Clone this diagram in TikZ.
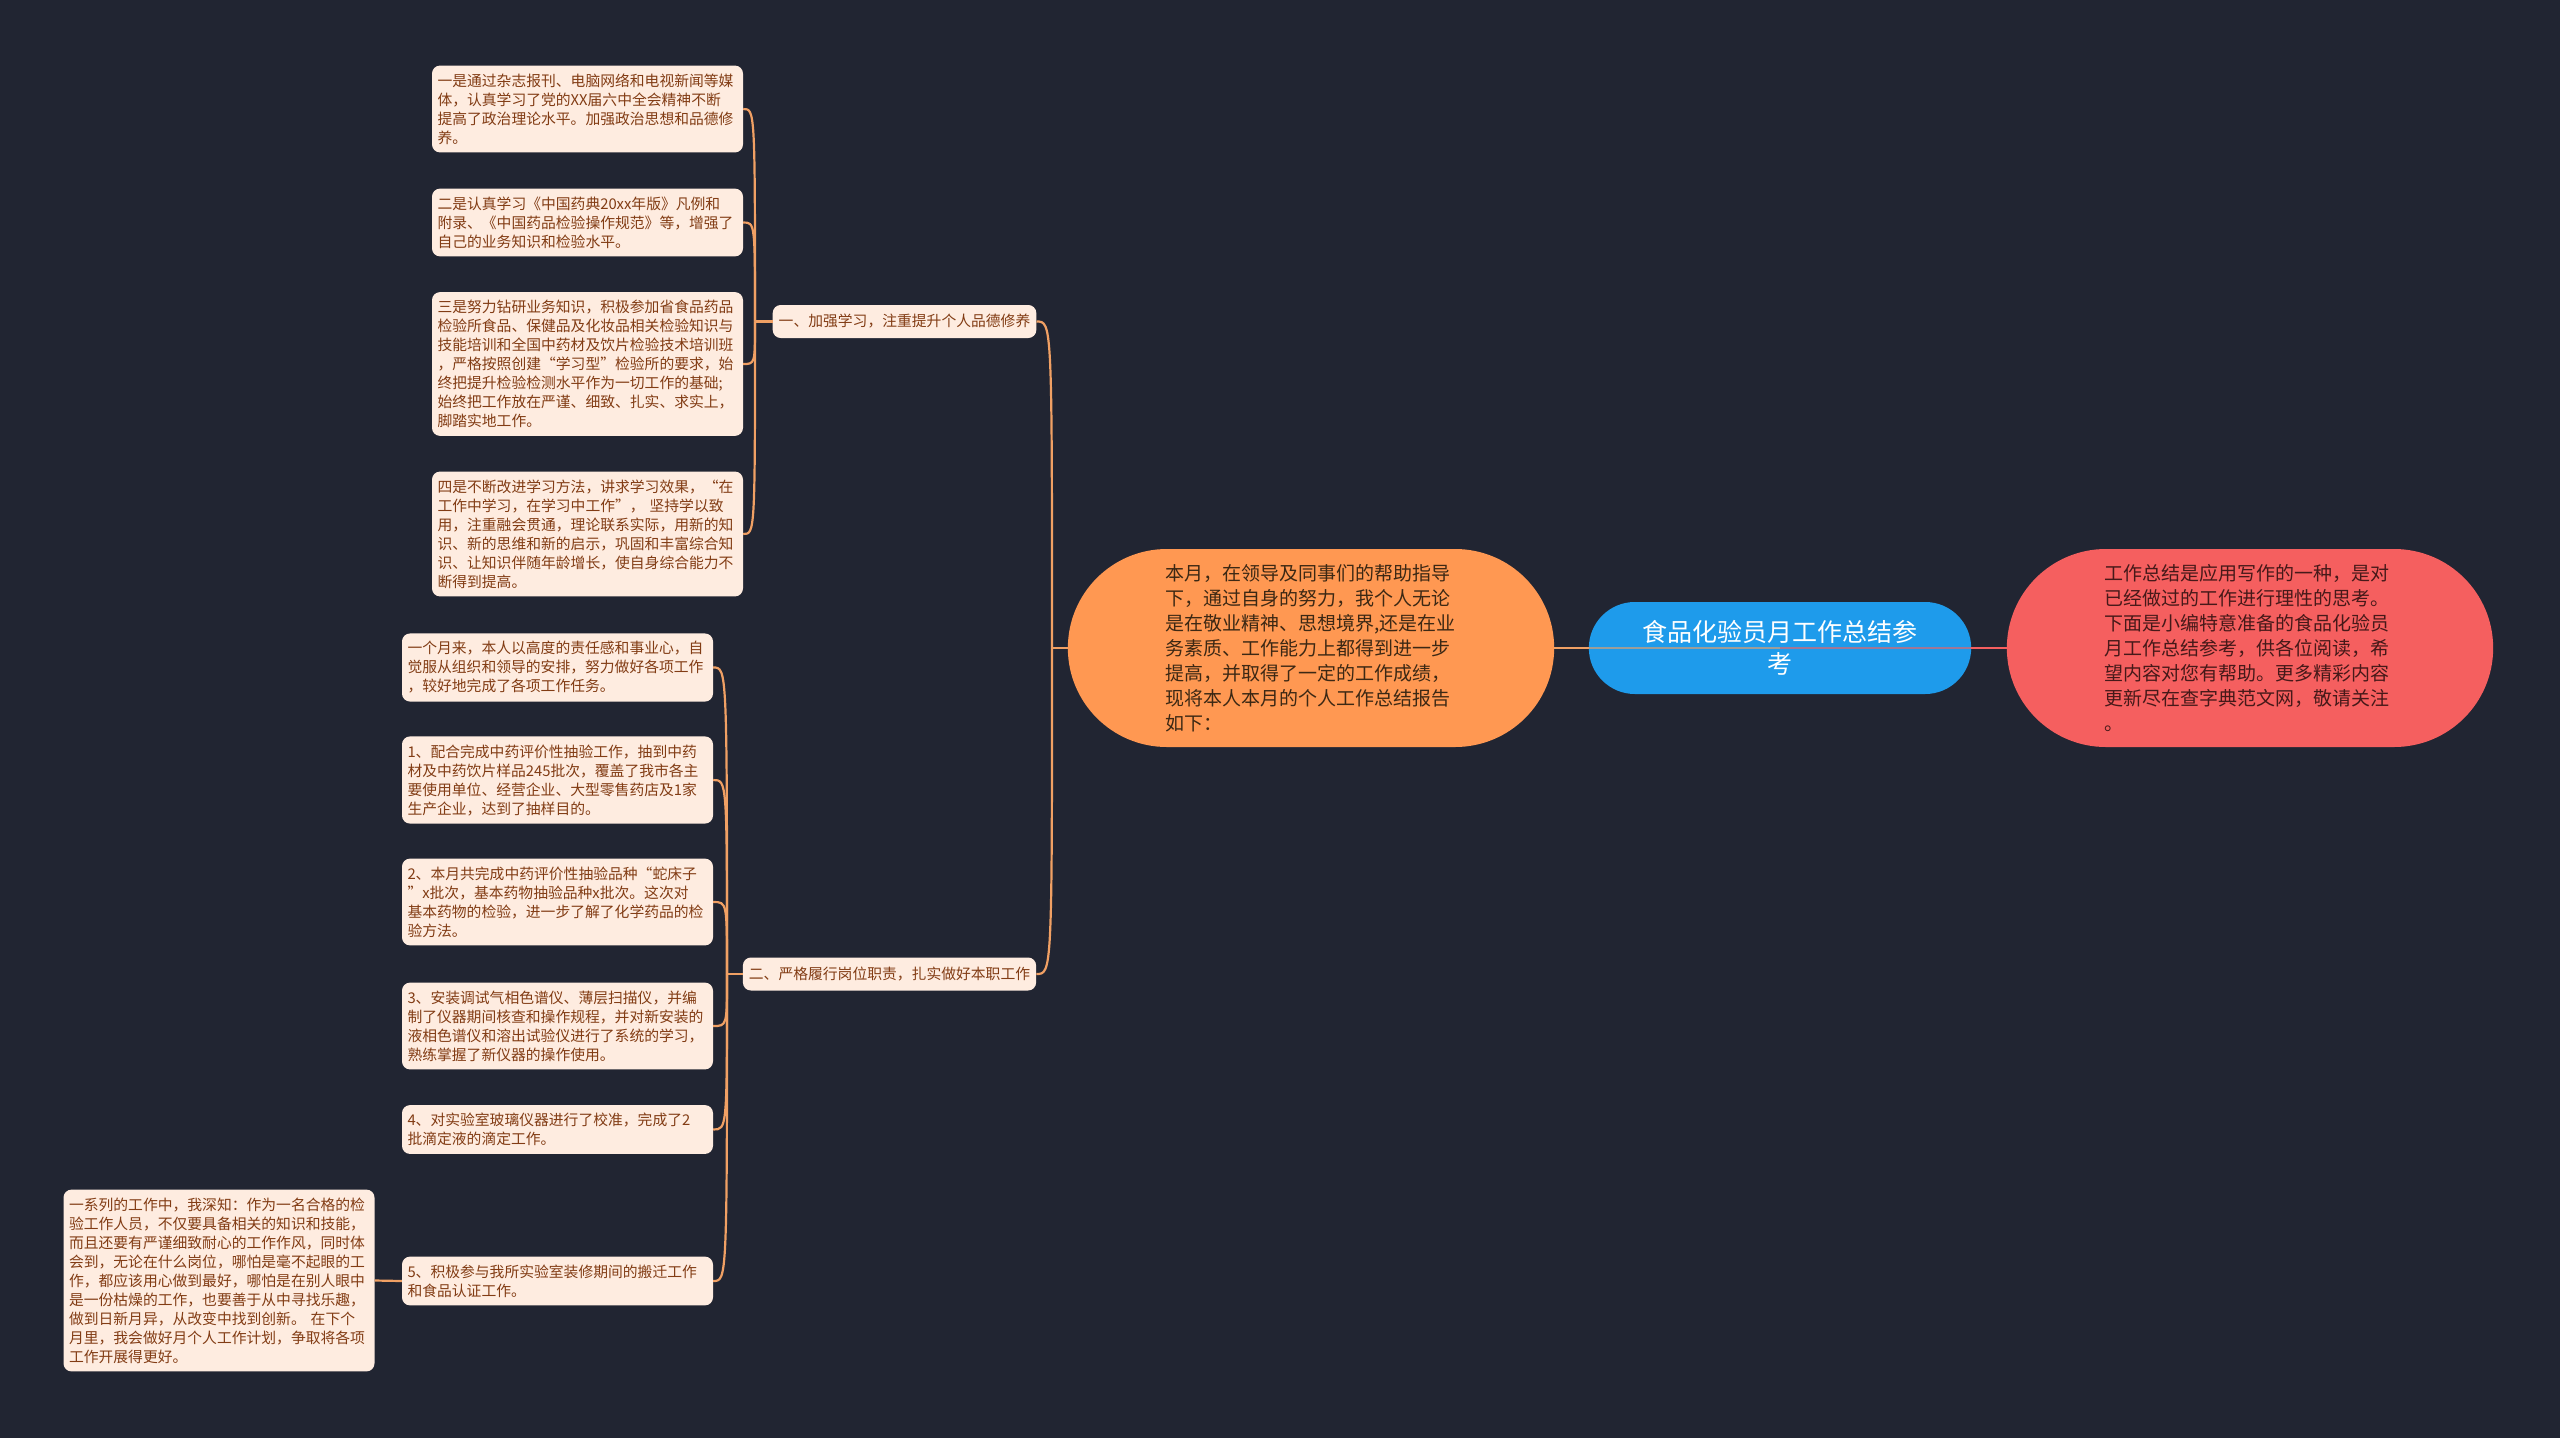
\documentclass[tikz,border=0pt]{standalone}
\usepackage{fontspec}
\setmainfont{Noto Sans CJK SC}
\usepackage{tikz}
\usetikzlibrary{shapes.misc,calc}
\definecolor{bgcol}{RGB}{33,37,50}
\definecolor{rootcol}{RGB}{30,155,235}
\definecolor{sumcol}{RGB}{255,152,82}
\definecolor{introcol}{RGB}{245,95,95}
\definecolor{leafcol}{RGB}{254,236,224}
\definecolor{leaftext}{RGB}{130,60,20}
\definecolor{linkcol}{RGB}{240,160,100}

\begin{document}
\begin{tikzpicture}[x=1pt,y=-1pt,
  leaf/.style={fill=leafcol,text=leaftext,rounded corners=8pt,font=\fontsize{14.8}{19}\selectfont,text width=300pt,align=left,inner xsep=5.5pt,inner ysep=8pt},
  branch/.style={fill=leafcol,text=leaftext,rounded corners=8pt,font=\fontsize{14.8}{19}\selectfont,inner xsep=6pt,minimum height=33pt},
  big/.style={rounded rectangle,minimum width=493pt,minimum height=198pt,text width=292pt,align=left,font=\fontsize{19}{25}\selectfont},
  link/.style={draw=linkcol,line width=2.2pt}]
\fill[bgcol] (0,0) rectangle (2560,1438);

% centre and its two neighbours
\node[big,fill=sumcol,text={rgb,255:red,60;green,40;blue,20}] (summary) at (1311,648) {本月，在领导及同事们的帮助指导\\下，通过自身的努力，我个人无论\\是在敬业精神、思想境界,还是在业\\务素质、工作能力上都得到进一步\\提高，并取得了一定的工作成绩，\\现将本人本月的个人工作总结报告\\如下：};
\node[big,fill=introcol,text={rgb,255:red,70;green,25;blue,25}] (intro) at (2250,648) {工作总结是应用写作的一种，是对\\已经做过的工作进行理性的思考。\\下面是小编特意准备的食品化验员\\月工作总结参考，供各位阅读，希\\望内容对您有帮助。更多精彩内容\\更新尽在查字典范文网，敬请关注\\。};
\node[rounded rectangle,fill=rootcol,text=white,minimum width=389pt,minimum height=92pt,align=center,font=\fontsize{25}{32}\selectfont] (root) at (1780,648) {食品化验员月工作总结参\\考};
\draw[link] (summary.east) -- (root.west);
\draw[link,opacity=0.6] (root.west) -- (root.center);
\draw[draw=introcol,line width=2.2pt] (intro.west) -- (root.east);
\draw[draw=introcol,line width=2.2pt,opacity=0.6] (root.east) -- (root.center);

% branches
\node[branch] (b1) at (904.5,321.5) {一、加强学习，注重提升个人品德修养};
\node[branch] (b2) at (889.5,974) {二、严格履行岗位职责，扎实做好本职工作};
\coordinate (j0) at (1052,648);
\draw[link] (summary.west) -- (j0);
\foreach \b in {b1,b2}
  \draw[link] (j0) .. controls (j0 |- \b.east) .. (\b.east);

% leaves of the first branch
\node[leaf] (l1a) at (587.5,109) {一是通过杂志报刊、电脑网络和电视新闻等媒\\体，认真学习了党的XX届六中全会精神不断\\提高了政治理论水平。加强政治思想和品德修\\养。};
\node[leaf] (l1b) at (587.5,222.5) {二是认真学习《中国药典20xx年版》凡例和\\附录、《中国药品检验操作规范》等，增强了\\自己的业务知识和检验水平。};
\node[leaf] (l1c) at (587.5,364) {三是努力钻研业务知识，积极参加省食品药品\\检验所食品、保健品及化妆品相关检验知识与\\技能培训和全国中药材及饮片检验技术培训班\\，严格按照创建“学习型”检验所的要求，始\\终把提升检验检测水平作为一切工作的基础;\\始终把工作放在严谨、细致、扎实、求实上，\\脚踏实地工作。};
\node[leaf] (l1d) at (587.5,534) {四是不断改进学习方法，讲求学习效果，“在\\工作中学习，在学习中工作”， 坚持学以致\\用，注重融会贯通，理论联系实际，用新的知\\识、新的思维和新的启示，巩固和丰富综合知\\识、让知识伴随年龄增长，使自身综合能力不\\断得到提高。};
\coordinate (j1) at (755,321.5);
\draw[link] (b1.west) -- (j1);
\foreach \n in {1a,1b,1c,1d}
  \draw[link] (j1) .. controls (j1 |- l\n.east) .. (l\n.east);

% leaves of the second branch
\node[leaf] (l2a) at (557.5,667.5) {一个月来，本人以高度的责任感和事业心，自\\觉服从组织和领导的安排，努力做好各项工作\\，较好地完成了各项工作任务。};
\node[leaf] (l2b) at (557.5,780) {1、配合完成中药评价性抽验工作，抽到中药\\材及中药饮片样品245批次，覆盖了我市各主\\要使用单位、经营企业、大型零售药店及1家\\生产企业，达到了抽样目的。};
\node[leaf] (l2c) at (557.5,902) {2、本月共完成中药评价性抽验品种“蛇床子\\”x批次，基本药物抽验品种x批次。这次对\\基本药物的检验，进一步了解了化学药品的检\\验方法。};
\node[leaf] (l2d) at (557.5,1026) {3、安装调试气相色谱仪、薄层扫描仪，并编\\制了仪器期间核查和操作规程，并对新安装的\\液相色谱仪和溶出试验仪进行了系统的学习，\\熟练掌握了新仪器的操作使用。};
\node[leaf] (l2e) at (557.5,1129.5) {4、对实验室玻璃仪器进行了校准，完成了2\\批滴定液的滴定工作。};
\node[leaf] (l2f) at (557.5,1281) {5、积极参与我所实验室装修期间的搬迁工作\\和食品认证工作。};
\coordinate (j2) at (727,974);
\draw[link] (b2.west) -- (j2);
\foreach \n in {2a,2b,2c,2d,2e,2f}
  \draw[link] (j2) .. controls (j2 |- l\n.east) .. (l\n.east);

\node[leaf] (l2g) at (219,1280.5) {一系列的工作中，我深知：作为一名合格的检\\验工作人员，不仅要具备相关的知识和技能，\\而且还要有严谨细致耐心的工作作风，同时体\\会到，无论在什么岗位，哪怕是毫不起眼的工\\作，都应该用心做到最好，哪怕是在别人眼中\\是一份枯燥的工作，也要善于从中寻找乐趣，\\做到日新月异，从改变中找到创新。 在下个\\月里，我会做好月个人工作计划，争取将各项\\工作开展得更好。};
\draw[link] (l2f.west) -- (l2g.east);
\end{tikzpicture}
\end{document}
